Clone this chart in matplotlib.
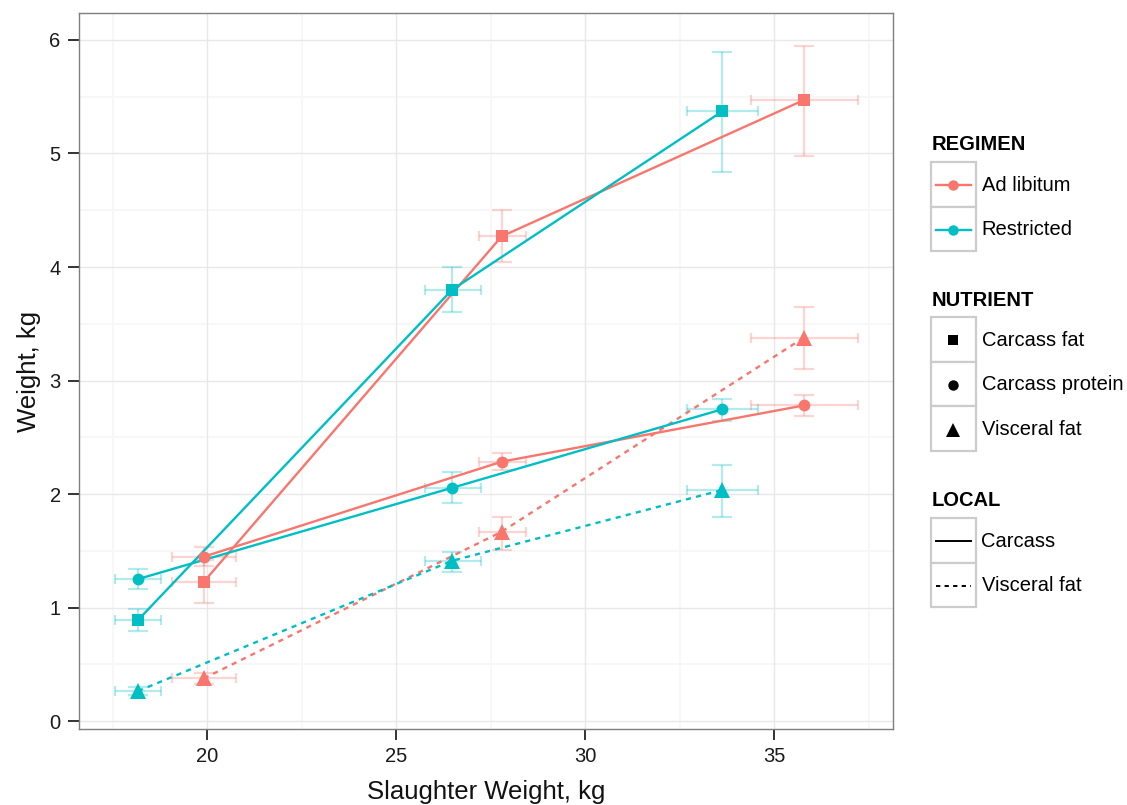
import matplotlib
matplotlib.use("Agg")
import matplotlib.pyplot as plt
from matplotlib.patches import Rectangle
from matplotlib.lines import Line2D
import numpy as np

plt.rcParams['font.family'] = ['Liberation Sans', 'DejaVu Sans']

# ---------------- data ----------------
regimens = ['Ad libitum', 'Restricted']
nutrients = ['Carcass fat', 'Carcass protein', 'Visceral fat']
locals_ = ['Carcass', 'Visceral fat']

# slaughter weight (x) with error range
sw_adlib = [19.91, 27.79, 35.78]
sw_adlib_lo = [19.07, 27.19, 34.38]
sw_adlib_hi = [20.77, 28.42, 37.21]
sw_restr = [18.17, 26.48, 33.62]
sw_restr_lo = [17.56, 25.76, 32.68]
sw_restr_hi = [18.77, 27.23, 34.56]

# weights (y) with error range
adlib_fat = [1.227, 4.27, 5.47]
adlib_fat_lo = [1.04, 4.04, 4.98]
adlib_fat_hi = [1.42, 4.50, 5.95]
adlib_prot = [1.448, 2.285, 2.78]
adlib_prot_lo = [1.37, 2.21, 2.69]
adlib_prot_hi = [1.53, 2.36, 2.87]
adlib_visc = [0.376, 1.668, 3.377]
adlib_visc_lo = [0.33, 1.51, 3.10]
adlib_visc_hi = [0.42, 1.80, 3.65]

restr_fat = [0.89, 3.80, 5.37]
restr_fat_lo = [0.796, 3.60, 4.84]
restr_fat_hi = [0.984, 4.00, 5.89]
restr_prot = [1.251, 2.055, 2.746]
restr_prot_lo = [1.16, 1.92, 2.64]
restr_prot_hi = [1.339, 2.19, 2.84]
restr_visc = [0.264, 1.412, 2.035]
restr_visc_lo = [0.23, 1.31, 1.80]
restr_visc_hi = [0.30, 1.49, 2.26]

x_ticks = [20, 25, 30, 35]
y_ticks = [0, 1, 2, 3, 4, 5, 6]

# ---------------- styling ----------------
colors = {'Ad libitum': '#F8766D', 'Restricted': '#00BFC4'}
markers = {'Carcass fat': 's', 'Carcass protein': 'o', 'Visceral fat': '^'}
msizes = {'Carcass fat': 8.0, 'Carcass protein': 8.5, 'Visceral fat': 11.0}
lstyles = {'Carcass': '-', 'Visceral fat': (0, (2.2, 2.2))}
nut_local = {'Carcass fat': 'Carcass', 'Carcass protein': 'Carcass', 'Visceral fat': 'Visceral fat'}

series = {
    'Ad libitum': {
        'x': (sw_adlib, sw_adlib_lo, sw_adlib_hi),
        'Carcass fat': (adlib_fat, adlib_fat_lo, adlib_fat_hi),
        'Carcass protein': (adlib_prot, adlib_prot_lo, adlib_prot_hi),
        'Visceral fat': (adlib_visc, adlib_visc_lo, adlib_visc_hi),
    },
    'Restricted': {
        'x': (sw_restr, sw_restr_lo, sw_restr_hi),
        'Carcass fat': (restr_fat, restr_fat_lo, restr_fat_hi),
        'Carcass protein': (restr_prot, restr_prot_lo, restr_prot_hi),
        'Visceral fat': (restr_visc, restr_visc_lo, restr_visc_hi),
    },
}

W, H = 1127, 805
fig = plt.figure(figsize=(W / 100, H / 100), dpi=100)
L, R, T, B = 78.7, 893.3, 13.3, 729.0
ax = fig.add_axes([L / W, 1 - B / H, (R - L) / W, (B - T) / H])

ax.set_xlim(16.60, 38.15)
ax.set_ylim(-0.070, 6.235)

# grid
for v in np.arange(17.5, 38.1, 5):
    ax.axvline(v, color='#f7f7f7', lw=1.3, zorder=0)
for v in np.arange(0.5, 6.1, 1):
    ax.axhline(v, color='#f7f7f7', lw=1.3, zorder=0)
for v in x_ticks:
    ax.axvline(v, color='#e8e8e8', lw=1.0, zorder=0.5)
for v in y_ticks:
    ax.axhline(v, color='#e8e8e8', lw=1.0, zorder=0.5)

for reg in regimens:
    c = colors[reg]
    xs, xlo, xhi = [np.array(a) for a in series[reg]['x']]
    for nut in nutrients:
        ys, ylo, yhi = [np.array(a) for a in series[reg][nut]]
        ax.errorbar(xs, ys, yerr=[ys - ylo, yhi - ys], fmt='none', ecolor=c,
                    alpha=0.3, elinewidth=1.6, capsize=7.2, capthick=1.6, zorder=2)
        ax.errorbar(xs, ys, xerr=[xs - xlo, xhi - xs], fmt='none', ecolor=c,
                    alpha=0.3, elinewidth=1.6, capsize=3.4, capthick=1.6, zorder=2)
        ax.plot(xs, ys, color=c, lw=1.7, linestyle=lstyles[nut_local[nut]], zorder=3)
        ax.plot(xs, ys, linestyle='none', marker=markers[nut], color=c,
                markersize=msizes[nut], markeredgewidth=0, zorder=4)

ax.set_xticks(x_ticks)
ax.set_yticks(y_ticks)
ax.tick_params(axis='both', length=8, width=1.4, color='#333333', labelsize=14.5,
               labelcolor='#1a1a1a', pad=5)
for s in ax.spines.values():
    s.set_color('#7f7f7f')
    s.set_linewidth(1.0)

# ---------------- overlay (titles & legend) ----------------
ov = fig.add_axes([0, 0, 1, 1], zorder=5)
ov.set_xlim(0, W)
ov.set_ylim(H, 0)
ov.axis('off')
ov.patch.set_visible(False)

ov.text((L + R) / 2, 792, 'Slaughter Weight, kg', fontsize=18.5, ha='center', va='center', color='#111111')
ov.text(29, (T + B) / 2, 'Weight, kg', fontsize=18.5, ha='center', va='center', rotation=90, color='#111111')

kx0, kx1 = 930.5, 975.5
kh = 44.6
tx = 981.5
box_col = '#cccccc'


def key_boxes(y0, n):
    for i in range(n):
        ov.add_patch(Rectangle((kx0, y0 + i * kh), kx1 - kx0, kh, facecolor='white',
                               edgecolor=box_col, lw=1.6))


def title(y, s):
    ov.text(931.5, y, s, fontsize=14.5, fontweight='bold', ha='left', va='center', color='black')


kc = (kx0 + kx1) / 2
leg_ms = {'Carcass fat': 7.0, 'Carcass protein': 7.5, 'Visceral fat': 9.5}

# REGIMEN
title(145, 'REGIMEN')
y0 = 162
key_boxes(y0, 2)
for i, reg in enumerate(regimens):
    yc = y0 + kh * (i + 0.5) + 1
    ov.add_line(Line2D([936, 971], [yc, yc], color=colors[reg], lw=1.7))
    ov.plot([kc], [yc], marker='o', color=colors[reg], markersize=7.5, markeredgewidth=0)
    ov.text(tx, yc, reg, fontsize=14.5, ha='left', va='center', color='black')

# NUTRIENT
title(300, 'NUTRIENT')
y0 = 317
key_boxes(y0, 3)
for i, nut in enumerate(nutrients):
    yc = y0 + kh * (i + 0.5) + 1
    ov.plot([kc], [yc], marker=markers[nut], color='black', markersize=leg_ms[nut], markeredgewidth=0)
    ov.text(tx, yc, nut, fontsize=14.5, ha='left', va='center', color='black')

# LOCAL
title(500, 'LOCAL')
y0 = 518
key_boxes(y0, 2)
for i, loc in enumerate(locals_):
    yc = y0 + kh * (i + 0.5) + 1
    ov.add_line(Line2D([936, 971], [yc, yc], color='black', lw=1.4, linestyle=lstyles[loc]))
    ov.text(tx, yc, loc, fontsize=14.5, ha='left', va='center', color='black')

fig.savefig('out.png', dpi=100)
